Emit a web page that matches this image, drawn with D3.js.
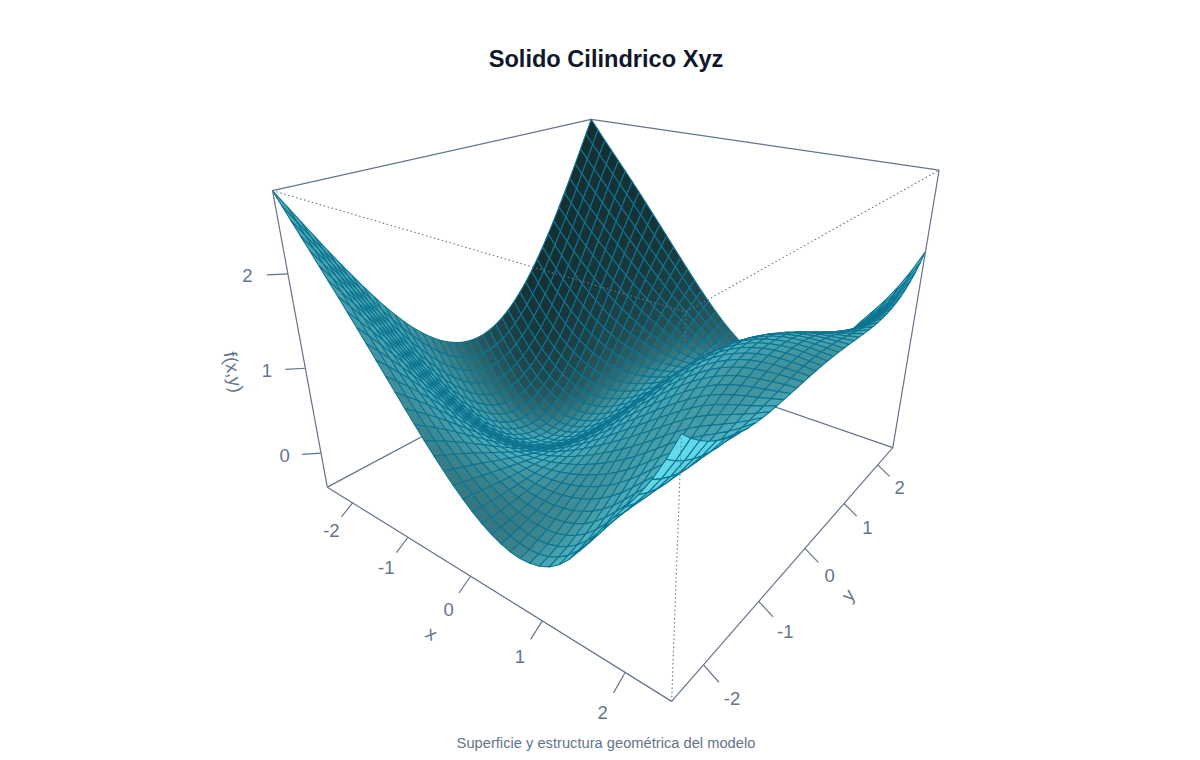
<!DOCTYPE html>
<html><head><meta charset="utf-8"><script src="https://cdn.jsdelivr.net/npm/d3@7"></script>
<style>html,body{margin:0;background:#fff}</style></head><body><svg id="c" width="1200" height="760"></svg>
<script>
const chartTitle='Solido Cilindrico Xyz';
const chartCaption='Superficie y estructura geométrica del modelo';
const xTicks=[-2,-1,0,1,2],yTicks=[-2,-1,0,1,2],zTicks=[0,1,2];
const xLim=[-2.5,2.5],yLim=[-2.5,2.5],zLim=[-.43,2.8];
const gridX=[-2.5,-2.375,-2.25,-2.125,-2,-1.875,-1.75,-1.625,-1.5,-1.375,-1.25,-1.125,-1,-.875,-.75,-.625,-.5,-.375,-.25,-.125,0,.125,.25,.375,.5,.625,.75,.875,1,1.125,1.25,1.375,1.5,1.625,1.75,1.875,2,2.125,2.25,2.375,2.5];
const gridY=gridX;
// Heights for y = -2.5 ... 0, one row per gridX value (y > 0 mirrors these).
const zRows=[
[2.800,2.627,2.454,2.283,2.113,1.947,1.786,1.629,1.479,1.335,1.200,1.075,0.959,0.855,0.763,0.684,0.618,0.566,0.529,0.506,0.499],
[2.680,2.510,2.340,2.170,2.001,1.833,1.669,1.510,1.355,1.208,1.069,0.938,0.818,0.710,0.614,0.531,0.462,0.407,0.368,0.344,0.336],
[2.561,2.396,2.229,2.060,1.891,1.723,1.558,1.396,1.239,1.088,0.945,0.811,0.688,0.575,0.476,0.390,0.318,0.261,0.221,0.196,0.188],
[2.444,2.283,2.119,1.953,1.785,1.617,1.451,1.288,1.129,0.976,0.831,0.694,0.567,0.452,0.350,0.262,0.188,0.130,0.088,0.062,0.054],
[2.327,2.171,2.011,1.847,1.681,1.515,1.349,1.186,1.026,0.872,0.725,0.587,0.459,0.342,0.238,0.148,0.072,0.013,-0.030,-0.056,-0.064],
[2.209,2.059,1.903,1.743,1.580,1.416,1.252,1.089,0.930,0.776,0.629,0.490,0.361,0.244,0.139,0.048,-0.027,-0.087,-0.131,-0.157,-0.166],
[2.090,1.946,1.795,1.640,1.481,1.320,1.159,0.998,0.841,0.689,0.543,0.405,0.277,0.159,0.055,-0.036,-0.112,-0.171,-0.215,-0.241,-0.250],
[1.970,1.832,1.688,1.538,1.384,1.227,1.070,0.913,0.759,0.610,0.466,0.330,0.204,0.088,-0.015,-0.104,-0.179,-0.239,-0.281,-0.307,-0.316],
[1.848,1.717,1.580,1.436,1.288,1.137,0.985,0.834,0.684,0.539,0.399,0.267,0.144,0.031,-0.070,-0.157,-0.231,-0.288,-0.330,-0.356,-0.364],
[1.725,1.602,1.471,1.335,1.194,1.050,0.905,0.760,0.616,0.477,0.342,0.215,0.096,-0.013,-0.110,-0.195,-0.265,-0.321,-0.362,-0.386,-0.395],
[1.600,1.485,1.363,1.235,1.102,0.966,0.829,0.691,0.555,0.422,0.295,0.174,0.060,-0.043,-0.136,-0.216,-0.284,-0.337,-0.376,-0.399,-0.407],
[1.474,1.368,1.255,1.136,1.012,0.886,0.757,0.628,0.501,0.377,0.257,0.143,0.037,-0.060,-0.147,-0.223,-0.287,-0.337,-0.373,-0.395,-0.403],
[1.348,1.251,1.148,1.038,0.925,0.808,0.690,0.571,0.454,0.339,0.228,0.123,0.025,-0.065,-0.145,-0.215,-0.274,-0.320,-0.354,-0.375,-0.381],
[1.222,1.135,1.041,0.943,0.840,0.735,0.627,0.520,0.414,0.310,0.209,0.114,0.025,-0.057,-0.130,-0.194,-0.247,-0.289,-0.320,-0.338,-0.344],
[1.097,1.020,0.937,0.849,0.758,0.665,0.570,0.474,0.380,0.288,0.199,0.114,0.035,-0.037,-0.102,-0.159,-0.206,-0.244,-0.271,-0.287,-0.293],
[0.974,0.907,0.835,0.759,0.680,0.599,0.517,0.435,0.353,0.273,0.196,0.123,0.055,-0.007,-0.063,-0.112,-0.153,-0.185,-0.208,-0.223,-0.227],
[0.854,0.797,0.737,0.673,0.607,0.539,0.470,0.401,0.333,0.266,0.202,0.141,0.085,0.033,-0.014,-0.054,-0.088,-0.115,-0.134,-0.146,-0.150],
[0.739,0.692,0.643,0.591,0.537,0.483,0.428,0.373,0.319,0.266,0.216,0.168,0.123,0.082,0.045,0.013,-0.013,-0.034,-0.050,-0.059,-0.062],
[0.629,0.592,0.554,0.514,0.474,0.433,0.392,0.351,0.312,0.273,0.236,0.201,0.168,0.139,0.112,0.089,0.070,0.055,0.044,0.038,0.035],
[0.526,0.499,0.472,0.444,0.417,0.389,0.362,0.336,0.311,0.286,0.263,0.241,0.221,0.203,0.187,0.173,0.161,0.152,0.145,0.141,0.140],
[0.432,0.414,0.397,0.381,0.366,0.352,0.339,0.327,0.316,0.305,0.296,0.287,0.279,0.273,0.267,0.262,0.258,0.255,0.252,0.251,0.250],
[0.347,0.338,0.332,0.327,0.324,0.323,0.323,0.325,0.327,0.330,0.334,0.339,0.343,0.347,0.352,0.355,0.359,0.361,0.363,0.365,0.365],
[0.274,0.273,0.276,0.282,0.290,0.301,0.314,0.329,0.345,0.361,0.378,0.395,0.411,0.426,0.440,0.452,0.463,0.471,0.477,0.481,0.482],
[0.214,0.220,0.232,0.247,0.266,0.289,0.314,0.341,0.369,0.398,0.427,0.455,0.482,0.508,0.531,0.551,0.568,0.582,0.592,0.598,0.601],
[0.168,0.181,0.200,0.224,0.253,0.286,0.321,0.360,0.399,0.440,0.480,0.519,0.556,0.591,0.623,0.651,0.675,0.694,0.707,0.716,0.718],
[0.139,0.157,0.182,0.214,0.251,0.293,0.338,0.386,0.436,0.487,0.537,0.586,0.633,0.676,0.716,0.751,0.780,0.804,0.821,0.831,0.834],
[0.127,0.149,0.179,0.217,0.261,0.311,0.364,0.421,0.480,0.539,0.599,0.656,0.711,0.762,0.808,0.849,0.884,0.911,0.931,0.943,0.947],
[0.135,0.159,0.193,0.235,0.284,0.340,0.400,0.464,0.530,0.597,0.664,0.728,0.790,0.847,0.899,0.945,0.984,1.015,1.037,1.051,1.056],
[0.164,0.189,0.224,0.269,0.322,0.382,0.447,0.516,0.588,0.660,0.732,0.802,0.869,0.931,0.988,1.038,1.080,1.113,1.138,1.153,1.158],
[0.217,0.241,0.276,0.322,0.376,0.438,0.506,0.578,0.652,0.728,0.804,0.878,0.948,1.014,1.073,1.126,1.170,1.205,1.231,1.247,1.252],
[0.298,0.319,0.352,0.396,0.449,0.511,0.578,0.651,0.726,0.803,0.880,0.955,1.027,1.094,1.154,1.208,1.253,1.289,1.315,1.331,1.336],
[0.411,0.426,0.454,0.493,0.543,0.601,0.665,0.735,0.809,0.884,0.960,1.034,1.104,1.171,1.231,1.284,1.328,1.364,1.390,1.405,1.410],
[0.553,0.559,0.580,0.612,0.655,0.706,0.765,0.830,0.899,0.970,1.042,1.112,1.180,1.243,1.301,1.352,1.394,1.428,1.453,1.467,1.471],
[0.712,0.709,0.720,0.743,0.777,0.821,0.872,0.930,0.992,1.057,1.122,1.187,1.250,1.309,1.363,1.410,1.450,1.481,1.503,1.516,1.520],
[0.874,0.861,0.861,0.874,0.899,0.934,0.976,1.026,1.080,1.137,1.196,1.254,1.311,1.365,1.414,1.457,1.493,1.522,1.542,1.554,1.557],
[1.028,1.004,0.995,0.999,1.014,1.039,1.072,1.113,1.159,1.208,1.259,1.311,1.361,1.409,1.453,1.492,1.525,1.550,1.569,1.579,1.582],
[1.176,1.142,1.123,1.117,1.122,1.137,1.161,1.193,1.230,1.270,1.314,1.358,1.402,1.443,1.482,1.516,1.545,1.568,1.585,1.594,1.597],
[1.331,1.287,1.257,1.240,1.234,1.239,1.252,1.273,1.300,1.331,1.365,1.401,1.437,1.471,1.504,1.533,1.558,1.578,1.592,1.600,1.603],
[1.508,1.452,1.409,1.379,1.361,1.353,1.353,1.362,1.377,1.396,1.419,1.445,1.471,1.497,1.522,1.545,1.565,1.581,1.592,1.599,1.601],
[1.715,1.645,1.588,1.543,1.509,1.486,1.471,1.465,1.465,1.471,1.481,1.494,1.509,1.524,1.540,1.555,1.568,1.579,1.587,1.592,1.594],
[1.954,1.866,1.792,1.730,1.679,1.637,1.606,1.582,1.565,1.555,1.549,1.548,1.550,1.554,1.559,1.564,1.570,1.575,1.578,1.581,1.582]
];
const zv=zRows.map(r=>r.concat(r.slice(0,20).reverse()));
const theta=38*Math.PI/180,phi=25*Math.PI/180,expand=.722,W=3.732,F=812,cx=621,cy=335,shadeExp=.6;
const base=[103,232,249];
const sx=d3.scaleLinear(xLim,[-1,1]),sy=d3.scaleLinear(yLim,[-1,1]),sz=d3.scaleLinear(zLim,[-expand,expand]);
function view(x,y,z){const X=x*Math.cos(theta)+y*Math.sin(theta),Zr=x*Math.sin(theta)-y*Math.cos(theta);
 return {X,Y:z*Math.cos(phi)-Zr*Math.sin(phi),Z:z*Math.sin(phi)+Zr*Math.cos(phi)};}
const px=d3.scaleLinear([0,1],[cx,cx+F]),py=d3.scaleLinear([0,1],[cy,cy-F]);
function proj(x,y,z){const v=view(sx(x),sy(y),sz(z)),w=W-v.Z;return [px(v.X/w),py(v.Y/w),v.Z];}
const svg=d3.select('#c');
const axisCol='#64748b';
const line=(a,b,dot)=>{const l=svg.append('line').attr('x1',a[0]).attr('y1',a[1]).attr('x2',b[0]).attr('y2',b[1]).attr('stroke',axisCol).attr('stroke-width',dot?1.1:1.2);if(dot)l.attr('stroke-dasharray','1.5 2.6');};
const [x0,x1]=xLim,[y0,y1]=yLim,[z0,z1]=zLim;
const A=proj(x0,y0,z0),B=proj(x1,y0,z0),C=proj(x1,y1,z0),D=proj(x0,y1,z0),At=proj(x0,y0,z1),Bt=proj(x1,y0,z1),Ct=proj(x1,y1,z1),Dt=proj(x0,y1,z1);
[[A,D],[D,C],[D,Dt],[At,Dt],[Dt,Ct]].forEach(p=>line(p[0],p[1]));
const L=[-Math.SQRT1_2,Math.SQRT1_2,0];
const cells=[];
for(let i=0;i<gridX.length-1;i++)for(let j=0;j<gridY.length-1;j++){
 const c=[[i,j],[i+1,j],[i+1,j+1],[i,j+1]];
 const pts=c.map(q=>proj(gridX[q[0]],gridY[q[1]],zv[q[0]][q[1]]));
 const s=c.map(q=>[sx(gridX[q[0]]),sy(gridY[q[1]]),sz(zv[q[0]][q[1]])]);
 const u=[s[2][0]-s[0][0],s[2][1]-s[0][1],s[2][2]-s[0][2]],v=[s[3][0]-s[1][0],s[3][1]-s[1][1],s[3][2]-s[1][2]];
 let n=[u[1]*v[2]-u[2]*v[1],u[2]*v[0]-u[0]*v[2],u[0]*v[1]-u[1]*v[0]];const m=Math.hypot(...n);n=n.map(a=>a/m);
 const sh=Math.pow(.5*(n[0]*L[0]+n[1]*L[1]+n[2]*L[2]+1),shadeExp);
 cells.push({pts,d:d3.mean(pts,p=>p[2]),col:d3.rgb(base[0]*sh,base[1]*sh,base[2]*sh)});
}
cells.sort((a,b)=>a.d-b.d);
svg.append('g').selectAll('path').data(cells).join('path').attr('d',c=>'M'+c.pts.map(p=>p[0]+','+p[1]).join('L')+'Z').attr('fill',c=>c.col).attr('stroke','#0e7490').attr('stroke-width',1.1).attr('stroke-linejoin','round');
[[A,B],[B,C],[A,At],[C,Ct]].forEach(p=>line(p[0],p[1]));
[[At,Bt],[Bt,Ct],[B,Bt]].forEach(p=>line(p[0],p[1],true));
const font='"Liberation Sans",Arial,sans-serif';
const txt=(p,t,size,rot)=>svg.append('text').attr('transform',`translate(${p[0]},${p[1]}) rotate(${rot||0})`).attr('text-anchor','middle').attr('dominant-baseline','central').attr('font-family',font).attr('font-size',size).attr('fill',axisCol).text(t);
const ta=.167,tb=.09;
xTicks.forEach(t=>{line(proj(t,y0,z0),proj(t,y0-ta,z0-tb));txt(proj(t,y0-1.9*ta,z0-2*tb),t,18.5);});
yTicks.forEach(t=>{line(proj(x1,t,z0),proj(x1+ta,t,z0-tb));txt(proj(x1+1.85*ta,t,z0-2*tb),t,18.5);});
zTicks.forEach(t=>{line(proj(x0,y0,t),proj(x0-.15,y0-.15,t));txt(proj(x0-.29,y0-.29,t),t,18.5);});
const ang=(a,b)=>Math.atan2(b[1]-a[1],b[0]-a[0])*180/Math.PI;
txt(proj(0,y0-3.3*ta,z0-3.4*tb),'x',18.5,ang(A,B));
txt(proj(x1+3.2*ta,0,z0-3.4*tb),'y',18.5,ang(B,C));
txt(proj(x0-.54,y0-.54,1.0),'f(x,y)',18.5,ang(At,A));
svg.append('text').attr('x',606).attr('y',67).attr('text-anchor','middle').attr('font-family',font).attr('font-weight','700').attr('font-size',23.6).attr('fill','#0f172a').text(chartTitle);
svg.append('text').attr('x',606).attr('y',748).attr('text-anchor','middle').attr('font-family',font).attr('font-size',14.7).attr('fill',axisCol).text(chartCaption);
</script></body></html>
